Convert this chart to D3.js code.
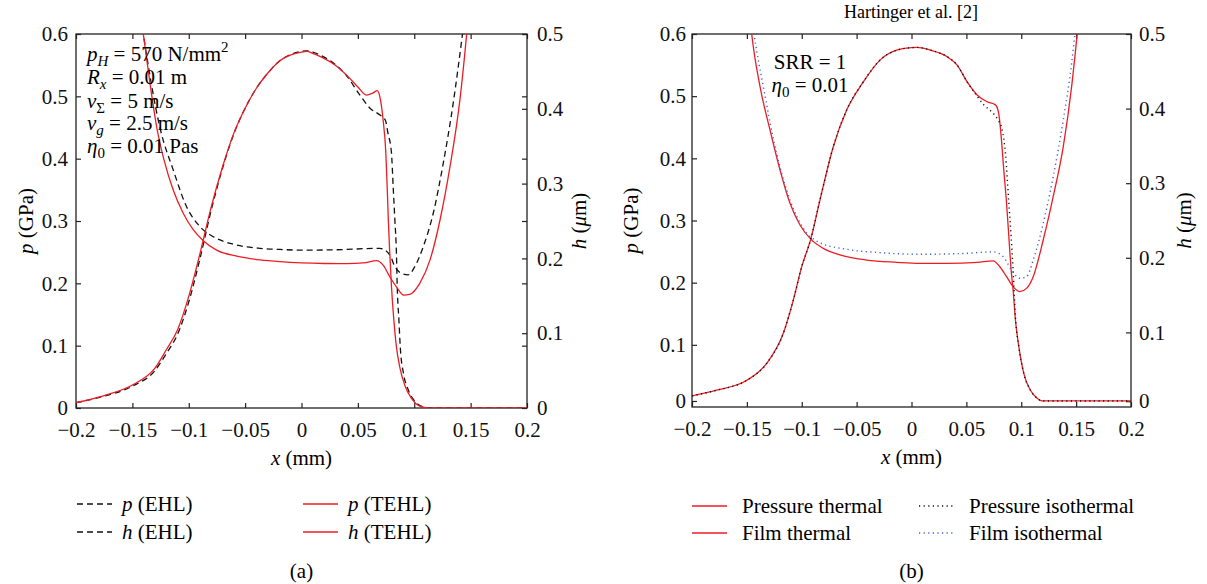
<!DOCTYPE html>
<html>
<head>
<meta charset="utf-8">
<script src="https://cdn.jsdelivr.net/npm/d3@7"></script>
<style>
  body { margin: 0; background: #fff; }
  svg { font-family: "Liberation Serif", "DejaVu Serif", serif; }
</style>
</head>
<body>
<svg id="chart" width="1207" height="584"></svg>
<script>
// x ticks shared by both panels
const xTicks = [-0.2, -0.15, -0.1, -0.05, 0, 0.05, 0.1, 0.15, 0.2];
const xTickLabels = ["\u22120.2", "\u22120.15", "\u22120.1", "\u22120.05", "0", "0.05", "0.1", "0.15", "0.2"];
const pTicks = [0, 0.1, 0.2, 0.3, 0.4, 0.5, 0.6];
const hTicks = [0, 0.1, 0.2, 0.3, 0.4, 0.5];
// panel (b) puts its "0" label a little above the axis line
const pTicksB = [0.0097, 0.1, 0.2, 0.3, 0.4, 0.5, 0.6];
const hTicksB = [0.0078, 0.1, 0.2, 0.3, 0.4, 0.5];
const pTickLabels = ["0", "0.1", "0.2", "0.3", "0.4", "0.5", "0.6"];
const hTickLabels = ["0", "0.1", "0.2", "0.3", "0.4", "0.5"];

// panel (a): pressure p (GPa) and film h (um), EHL vs TEHL
const pEHL = [[-0.2,0.0085],[-0.175,0.019],[-0.15,0.035],[-0.13,0.06],[-0.12,0.087],[-0.11,0.118],[-0.1,0.17],[-0.09,0.24],[-0.08,0.318],[-0.07,0.385],[-0.06,0.44],[-0.05,0.481],[-0.04,0.513],[-0.03,0.537],[-0.02,0.556],[-0.01,0.567],[0,0.572],[0.005,0.573],[0.01,0.571],[0.02,0.563],[0.03,0.551],[0.04,0.533],[0.0518,0.502],[0.0607,0.481],[0.0696,0.47],[0.0743,0.462],[0.0767,0.441],[0.0798,0.409],[0.0813,0.355],[0.0828,0.302],[0.0842,0.248],[0.0849,0.195],[0.0864,0.141],[0.0876,0.098],[0.0905,0.055],[0.0945,0.03],[0.1,0.012],[0.106,0.003],[0.113,0],[0.2,0]];
const pTEHL = [[-0.2,0.0085],[-0.175,0.02],[-0.15,0.037],[-0.13,0.064],[-0.12,0.093],[-0.11,0.125],[-0.1,0.179],[-0.09,0.248],[-0.08,0.323],[-0.07,0.387],[-0.06,0.441],[-0.05,0.481],[-0.04,0.513],[-0.03,0.537],[-0.02,0.556],[-0.01,0.566],[0,0.571],[0.005,0.572],[0.01,0.569],[0.02,0.561],[0.03,0.55],[0.04,0.534],[0.05,0.515],[0.0575,0.502],[0.063,0.505],[0.0672,0.509],[0.0695,0.499],[0.0724,0.462],[0.0748,0.409],[0.076,0.355],[0.077,0.302],[0.0783,0.248],[0.0798,0.195],[0.0819,0.141],[0.0842,0.098],[0.0871,0.066],[0.0915,0.037],[0.0974,0.016],[0.105,0.003],[0.1124,0],[0.2,0]];
const hEHL = [[-0.146,0.56],[-0.1403,0.5],[-0.1251,0.372],[-0.1137,0.318],[-0.1019,0.269],[-0.09,0.2424],[-0.0782,0.229],[-0.0605,0.219],[-0.0368,0.2135],[-0.0191,0.212],[0,0.211],[0.03,0.2115],[0.0696,0.2135],[0.0784,0.2045],[0.0828,0.189],[0.0887,0.18],[0.0946,0.178],[0.1005,0.189],[0.108,0.2157],[0.1168,0.26],[0.1257,0.327],[0.1345,0.407],[0.1428,0.5],[0.147,0.55]];
const hTEHL = [[-0.146,0.56],[-0.1403,0.5],[-0.134,0.43],[-0.128,0.372],[-0.122,0.332],[-0.1137,0.291],[-0.1048,0.26],[-0.0959,0.238],[-0.0871,0.2237],[-0.0753,0.211],[-0.0575,0.203],[-0.0368,0.198],[-0.0191,0.1956],[0,0.194],[0.02,0.1932],[0.04,0.193],[0.055,0.194],[0.0667,0.197],[0.0724,0.191],[0.0783,0.1755],[0.0842,0.162],[0.0907,0.151],[0.096,0.152],[0.105,0.167],[0.114,0.198],[0.1228,0.251],[0.1317,0.3226],[0.1405,0.412],[0.1465,0.5],[0.15,0.56]];

// panel (b): thermal vs isothermal (Hartinger et al.)
const pThermal = [[-0.2,0.0177],[-0.1775,0.027],[-0.15,0.043],[-0.132,0.07],[-0.1168,0.1185],[-0.1077,0.172],[-0.1,0.2257],[-0.0918,0.27],[-0.0834,0.333],[-0.0712,0.419],[-0.059,0.478],[-0.0439,0.523],[-0.0287,0.558],[-0.0135,0.574],[0,0.578],[0.005,0.5785],[0.0173,0.574],[0.0325,0.5635],[0.0416,0.55],[0.0507,0.523],[0.0598,0.502],[0.0689,0.491],[0.0765,0.486],[0.0795,0.472],[0.0817,0.435],[0.0841,0.381],[0.0866,0.328],[0.0887,0.274],[0.0908,0.22],[0.0926,0.188],[0.0947,0.14],[0.0978,0.097],[0.1023,0.054],[0.1084,0.027],[0.1145,0.014],[0.119,0.0097],[0.2,0.0097]];
const pIsothermal = [[-0.2,0.0177],[-0.1775,0.027],[-0.15,0.043],[-0.132,0.07],[-0.1168,0.1185],[-0.1077,0.172],[-0.1,0.2257],[-0.0918,0.27],[-0.0834,0.333],[-0.0712,0.419],[-0.059,0.478],[-0.0439,0.523],[-0.0287,0.558],[-0.0135,0.574],[0,0.578],[0.005,0.5785],[0.0173,0.574],[0.0325,0.5635],[0.0416,0.55],[0.0507,0.523],[0.0598,0.5],[0.0659,0.486],[0.072,0.4766],[0.0781,0.464],[0.0826,0.4456],[0.0856,0.408],[0.0887,0.328],[0.0908,0.274],[0.0926,0.22],[0.0947,0.145],[0.0978,0.097],[0.1023,0.054],[0.1084,0.027],[0.1145,0.014],[0.119,0.0097],[0.2,0.0097]];
const hThermal = [[-0.1495,0.56],[-0.1456,0.5],[-0.138,0.4294],[-0.1289,0.3713],[-0.1198,0.3177],[-0.1107,0.273],[-0.1016,0.244],[-0.0918,0.225],[-0.0804,0.2127],[-0.0652,0.2038],[-0.0409,0.197],[-0.0135,0.194],[0.008,0.1926],[0.0325,0.1926],[0.06,0.194],[0.0744,0.196],[0.0805,0.188],[0.0866,0.1747],[0.0927,0.161],[0.0987,0.1546],[0.1048,0.159],[0.1109,0.1747],[0.12,0.2239],[0.1291,0.282],[0.1383,0.349],[0.1459,0.4294],[0.151,0.5],[0.155,0.56]];
const hIsothermal = [[-0.148,0.55],[-0.1435,0.5],[-0.135,0.4294],[-0.1229,0.34],[-0.1107,0.2775],[-0.0986,0.2395],[-0.0834,0.2202],[-0.059,0.2114],[-0.0287,0.2069],[0.008,0.2047],[0.05,0.206],[0.0744,0.208],[0.0836,0.2015],[0.0912,0.1836],[0.0987,0.1725],[0.1048,0.1747],[0.1109,0.197],[0.12,0.246],[0.1291,0.3087],[0.1383,0.3847],[0.1459,0.4606],[0.1489,0.5],[0.152,0.54]];

const RED = "#ec1c24";
const BLUE = "#3a5fd0";
const INK = "#222";
const FS = 21;
const DASH = "6,4";
const DOT = "1.2,3.4";

const svg = d3.select("#chart");

function panel(o) {
  const x = d3.scaleLinear().domain([-0.2, 0.2]).range([o.left, o.right]);
  const yP = d3.scaleLinear().domain([0, 0.6]).range([o.bottom, o.top]);
  const yH = d3.scaleLinear().domain([0, 0.5]).range([o.bottom, o.top]);
  const g = svg.append("g");

  g.append("clipPath").attr("id", o.id + "clip")
    .append("rect").attr("x", o.left).attr("y", o.top)
    .attr("width", o.right - o.left).attr("height", o.bottom - o.top);

  const fmt = (vals, labels) => (d) => labels[vals.indexOf(d)];

  // axes, ticks pointing inward
  g.append("g").attr("transform", `translate(0,${o.bottom})`)
    .call(d3.axisBottom(x).tickValues(xTicks).tickFormat(fmt(xTicks, xTickLabels)).tickSize(-5).tickSizeOuter(0).tickPadding(14));
  g.append("g").attr("transform", `translate(0,${o.top})`)
    .call(d3.axisTop(x).tickValues(xTicks).tickFormat("").tickSize(-5).tickSizeOuter(0));
  g.append("g").attr("transform", `translate(${o.left},0)`)
    .call(d3.axisLeft(yP).tickValues(o.pTicks).tickFormat(fmt(o.pTicks, pTickLabels)).tickSize(-5).tickSizeOuter(0).tickPadding(o.padL));
  if (o.mirrorP) {
    g.append("g").attr("transform", `translate(${o.right},0)`)
      .call(d3.axisRight(yP).tickValues(pTicks.slice(1)).tickFormat("").tickSize(-5).tickSizeOuter(0));
  }
  g.append("g").attr("transform", `translate(${o.right},0)`)
    .call(d3.axisRight(yH).tickValues(o.hTicks).tickFormat(fmt(o.hTicks, hTickLabels)).tickSize(-5).tickSizeOuter(0).tickPadding(o.padR));

  g.selectAll(".domain").remove();
  g.selectAll(".tick line").attr("stroke", INK).attr("stroke-width", 1.2);
  g.selectAll(".tick text").attr("fill", "#111").style("font-size", FS + "px").style("font-family", "Liberation Serif");

  g.append("rect").attr("x", o.left).attr("y", o.top)
    .attr("width", o.right - o.left).attr("height", o.bottom - o.top)
    .attr("fill", "none").attr("stroke", INK).attr("stroke-width", 1.3);

  const lineP = d3.line().x(d => x(d[0])).y(d => yP(d[1])).curve(d3.curveMonotoneX);
  const lineH = d3.line().x(d => x(d[0])).y(d => yH(d[1])).curve(d3.curveMonotoneX);
  const curves = g.append("g").attr("clip-path", `url(#${o.id}clip)`);
  o.series.forEach(s => {
    curves.append("path")
      .attr("d", (s.axis === "p" ? lineP : lineH)(s.data))
      .attr("fill", "none").attr("stroke", s.color)
      .attr("stroke-width", s.width || 1.3)
      .attr("stroke-dasharray", s.dash || null);
  });

  const cx = (o.left + o.right) / 2;
  // axis titles
  const xl = g.append("text").attr("x", cx).attr("y", o.bottom + 57)
    .attr("text-anchor", "middle").style("font-size", FS + "px");
  xl.append("tspan").attr("font-style", "italic").text("x");
  xl.append("tspan").text(" (mm)");

  const pl = g.append("text").attr("transform", `translate(${o.pLabelX},${(o.top + o.bottom) / 2}) rotate(-90)`)
    .attr("text-anchor", "middle").style("font-size", FS + "px");
  pl.append("tspan").attr("font-style", "italic").text("p");
  pl.append("tspan").text(" (GPa)");

  const hl = g.append("text").attr("transform", `translate(${o.hLabelX},${(o.top + o.bottom) / 2}) rotate(-90)`)
    .attr("text-anchor", "middle").style("font-size", FS + "px");
  hl.append("tspan").attr("font-style", "italic").text("h");
  hl.append("tspan").text(" (");
  hl.append("tspan").attr("font-style", "italic").text("\u03bc");
  hl.append("tspan").text("m)");

  // legend, two columns
  o.legend.forEach((it, i) => {
    const col = i % 2, row = Math.floor(i / 2);
    const lx = o.legX[col], ly = o.legY[row];
    g.append("line").attr("x1", lx).attr("x2", lx + 35).attr("y1", ly).attr("y2", ly)
      .attr("stroke", it.color).attr("stroke-width", 1.3).attr("stroke-dasharray", it.dash || null);
    const t = g.append("text").attr("x", lx + o.legGap).attr("y", ly + 7).style("font-size", FS + "px");
    it.parts.forEach(p => t.append("tspan").attr("font-style", p[1] ? "italic" : null).text(p[0]));
  });

  g.append("text").attr("x", cx).attr("y", 578).attr("text-anchor", "middle")
    .style("font-size", FS + "px").text(o.tag);
}

panel({
  id: "a", left: 76, right: 527, top: 34, bottom: 408,
  pTicks: pTicks, hTicks: hTicks, padL: 8, padR: 10, mirrorP: true,
  pLabelX: 33, hLabelX: 586,
  series: [
    { axis: "p", data: pEHL, color: "#111", dash: DASH },
    { axis: "h", data: hEHL, color: "#111", dash: DASH },
    { axis: "p", data: pTEHL, color: RED },
    { axis: "h", data: hTEHL, color: RED }
  ],
  legX: [77, 303], legY: [504, 532], legGap: 45,
  legend: [
    { color: "#111", dash: DASH, parts: [["p", true], [" (EHL)", false]] },
    { color: RED, parts: [["p", true], [" (TEHL)", false]] },
    { color: "#111", dash: DASH, parts: [["h", true], [" (EHL)", false]] },
    { color: RED, parts: [["h", true], [" (TEHL)", false]] }
  ],
  tag: "(a)"
});

panel({
  id: "b", left: 692, right: 1131, top: 34, bottom: 407,
  pTicks: pTicksB, hTicks: hTicksB, padL: 6, padR: 8, mirrorP: false,
  pLabelX: 638, hLabelX: 1191,
  series: [
    { axis: "p", data: pThermal, color: RED },
    { axis: "h", data: hThermal, color: RED },
    { axis: "p", data: pIsothermal, color: "#111", dash: DOT, width: 1.4 },
    { axis: "h", data: hIsothermal, color: BLUE, dash: DOT, width: 1.4 }
  ],
  legX: [692, 919], legY: [506, 533], legGap: 50,
  legend: [
    { color: RED, parts: [["Pressure thermal", false]] },
    { color: "#111", dash: DOT, parts: [["Pressure isothermal", false]] },
    { color: RED, parts: [["Film thermal", false]] },
    { color: BLUE, dash: DOT, parts: [["Film isothermal", false]] }
  ],
  tag: "(b)"
});

// panel (a) parameters: [text, kind] with kind i = italic, s = subscript, sup = superscript
const annLines = [
  [["p", "i"], ["H", "si"], [" = 570 N/mm", ""], ["2", "sup"]],
  [["R", "i"], ["x", "si"], [" = 0.01 m", ""]],
  [["v", "i"], ["\u03a3", "s"], [" = 5 m/s", ""]],
  [["v", "i"], ["g", "si"], [" = 2.5 m/s", ""]],
  [["\u03b7", "i"], ["0", "s"], [" = 0.01 Pas", ""]]
];
const annY = [61, 84, 108, 130, 153];
annLines.forEach((ln, i) => {
  const t = svg.append("text").attr("x", 87).attr("y", annY[i]).style("font-size", FS + "px");
  let shift = 0;
  ln.forEach(([s, k]) => {
    const ts = t.append("tspan").text(s);
    if (k.includes("i")) ts.attr("font-style", "italic");
    let want = 0;
    if (k === "s" || k === "si") { want = 5; ts.style("font-size", "15px"); }
    if (k === "sup") { want = -9; ts.style("font-size", "15px"); }
    if (want !== shift) { ts.attr("dy", want - shift); shift = want; }
  });
});

// panel (b) notes and source
svg.append("text").attr("x", 810).attr("y", 69).attr("text-anchor", "middle").style("font-size", FS + "px").text("SRR = 1");
const eta = svg.append("text").attr("x", 810).attr("y", 92).attr("text-anchor", "middle").style("font-size", FS + "px");
eta.append("tspan").attr("font-style", "italic").text("\u03b7");
eta.append("tspan").attr("dy", 5).style("font-size", "15px").text("0");
eta.append("tspan").attr("dy", -5).text(" = 0.01");
svg.append("text").attr("x", 911).attr("y", 18).attr("text-anchor", "middle").style("font-size", "18px").text("Hartinger et al. [2]");
</script>
</body>
</html>
